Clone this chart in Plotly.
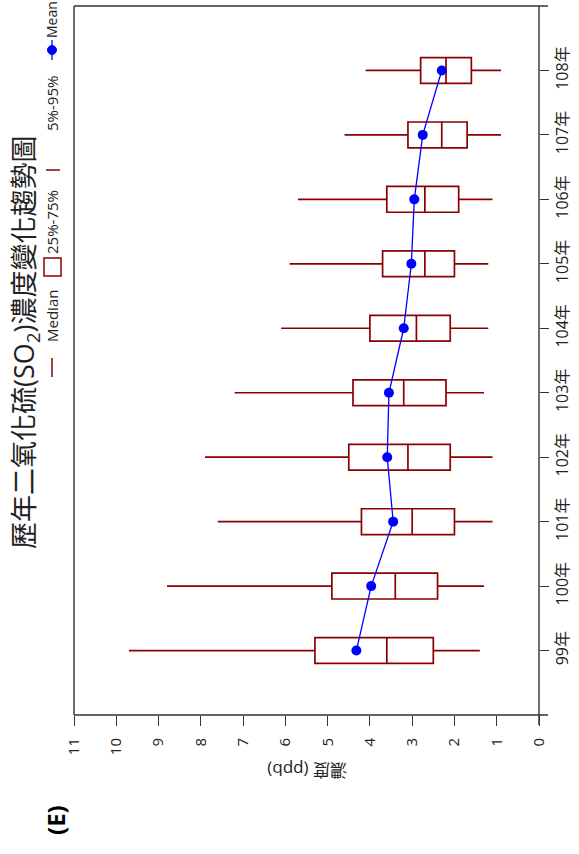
import plotly.graph_objects as go

# ---- data ----
years = ["99年", "100年", "101年", "102年", "103年", "104年", "105年", "106年", "107年", "108年"]
p5 = [1.4, 1.3, 1.1, 1.1, 1.3, 1.2, 1.2, 1.1, 0.9, 0.9]
p25 = [2.5, 2.4, 2.0, 2.1, 2.2, 2.1, 2.0, 1.9, 1.7, 1.6]
median = [3.6, 3.4, 3.0, 3.1, 3.2, 2.9, 2.7, 2.7, 2.3, 2.2]
p75 = [5.3, 4.9, 4.2, 4.5, 4.4, 4.0, 3.7, 3.6, 3.1, 2.8]
p95 = [9.7, 8.8, 7.6, 7.9, 7.2, 6.1, 5.9, 5.7, 4.6, 4.1]
mean = [4.32, 3.97, 3.45, 3.59, 3.55, 3.20, 3.02, 2.95, 2.75, 2.30]
conc_ticks = list(range(0, 12))

W, H = 579, 854
L, R, T, B = 74, 539, 6, 715  # plot area in pixels
DARKRED = "#8B0000"
BLUE = "#0000FF"
FONT = "Open Sans, Noto Sans CJK TC, sans-serif"


def px(x):
    return (x - L) / (R - L)


def py(y):
    return (B - y) / (B - T)


fig = go.Figure()
fig.add_trace(go.Box(
    y=years, q1=p25, median=median, q3=p75, lowerfence=p5, upperfence=p95,
    orientation="h", boxpoints=False, whiskerwidth=0, width=0.4,
    line=dict(color=DARKRED, width=1.7), fillcolor="rgba(255,255,255,0)",
    showlegend=False, hoverinfo="skip",
))
fig.add_trace(go.Scatter(
    x=mean, y=years, mode="lines+markers",
    line=dict(color=BLUE, width=1.3), marker=dict(color=BLUE, size=10),
    showlegend=False,
))

shapes = []
frame = dict(type="line", xref="paper", yref="paper", line=dict(color="#333333", width=1.4))
shapes.append({**frame, "x0": px(L), "x1": px(L), "y0": py(T), "y1": py(B)})
shapes.append({**frame, "x0": px(L), "x1": px(548), "y0": py(T), "y1": py(T)})
shapes.append({**frame, "x0": px(L), "x1": px(548), "y0": py(B), "y1": py(B)})
shapes.append({**frame, "x0": px(R), "x1": px(R), "y0": py(T), "y1": py(725)})

# legend symbols
shapes.append(dict(type="line", xref="paper", yref="paper", x0=px(52), x1=px(52), y0=py(358), y1=py(377),
                   line=dict(color=DARKRED, width=1.5)))
shapes.append(dict(type="rect", xref="paper", yref="paper", x0=px(44), x1=px(61), y0=py(258), y1=py(276),
                   line=dict(color=DARKRED, width=1.5), fillcolor="rgba(0,0,0,0)"))
shapes.append(dict(type="line", xref="paper", yref="paper", x0=px(46), x1=px(60), y0=py(170), y1=py(170),
                   line=dict(color=DARKRED, width=1.5)))
shapes.append(dict(type="line", xref="paper", yref="paper", x0=px(52), x1=px(52), y0=py(40), y1=py(60),
                   line=dict(color=BLUE, width=1.3)))
shapes.append(dict(type="circle", xref="paper", yref="paper", x0=px(47.5), x1=px(56.5), y0=py(45.5), y1=py(54.5),
                   line=dict(color=BLUE, width=1), fillcolor=BLUE))

annotations = []


def ann(text, x, y, size, angle=-90, bold=False, color="#222222"):
    annotations.append(dict(
        text=f"<b>{text}</b>" if bold else text, x=px(x), y=py(y), xref="paper", yref="paper",
        showarrow=False, textangle=angle, xanchor="center", yanchor="middle",
        font=dict(family=FONT, size=size, color=color),
    ))


ann("歷年二氧化硫(SO<sub>2</sub>)濃度變化趨勢圖", 25, 342, 27)
ann("Median", 52, 316, 15)
ann("25%-75%", 52, 222, 15)
ann("5%-95%", 52, 104, 15)
ann("Mean", 52, 20, 14)
ann("濃度 (ppb)", 307, 771, 17, angle=180)
ann("(E)", 55, 820, 24, bold=True, color="#000000")

fig.update_layout(
    width=W, height=H, margin=dict(l=L, r=W - R, t=T, b=H - B),
    paper_bgcolor="white", plot_bgcolor="white",
    shapes=shapes, annotations=annotations, showlegend=False,
    font=dict(family=FONT, color="#222222"),
    xaxis=dict(range=[11, 0], tickvals=conc_ticks, ticktext=[str(v) for v in conc_ticks],
               tickangle=-90, ticks="outside", ticklen=10, tickcolor="#333333", tickwidth=1.3,
               ticklabelstandoff=6,
               showgrid=False, zeroline=False, showline=False, tickfont=dict(size=15)),
    yaxis=dict(type="category", categoryorder="array", categoryarray=years, range=[-1, 10], side="right",
               tickangle=-90, ticks="outside", ticklen=9, tickcolor="#333333", tickwidth=1.3,
               showgrid=False, zeroline=False, showline=False, tickfont=dict(size=16)),
)

fig.write_html("out.html", config={"displayModeBar": False},
               post_script="document.body.style.margin='0px';document.body.style.padding='0px';")
